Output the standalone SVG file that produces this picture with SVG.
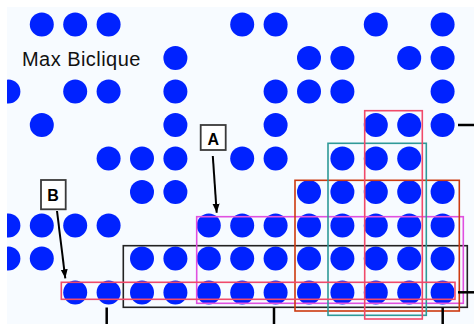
<svg xmlns="http://www.w3.org/2000/svg" width="474" height="324" viewBox="0 0 474 324">
<style>
.d{fill:#0022ff}
.box{fill:none;stroke-width:1.6}
.lbl rect{fill:#ffffff;stroke:#3a3a3a;stroke-width:1.8}
.lbl text{font-family:"Liberation Sans",Arial,sans-serif;font-weight:bold;font-size:16px;fill:#000;text-anchor:middle}
.arr{stroke:#000;stroke-width:2;fill:none}
.tick{stroke:#000;stroke-width:2.5}
</style>
<defs>
<clipPath id="clip"><rect x="7" y="7" width="467" height="317"/></clipPath>
<marker id="ah" markerUnits="userSpaceOnUse" markerWidth="10" markerHeight="10" viewBox="0 0 10 10" refX="9" refY="5" orient="auto">
<path d="M0,1.5 L9,5 L0,8.5 Z" fill="#000"/>
</marker>
</defs>
<rect x="0" y="0" width="474" height="324" fill="#ffffff"/>
<rect x="7" y="7" width="467" height="317" fill="#f7fbff"/>
<text x="22" y="66" font-family="'Liberation Sans',Arial,sans-serif" font-size="20" letter-spacing="0.45" fill="#111">Max Biclique</text>
<g id="dots" clip-path="url(#clip)">
<g id="row0"><circle class="d" cx="41.8" cy="24.6" r="12"/><circle class="d" cx="75.2" cy="24.6" r="12"/><circle class="d" cx="108.6" cy="24.6" r="12"/><circle class="d" cx="242.2" cy="24.6" r="12"/><circle class="d" cx="275.6" cy="24.6" r="12"/><circle class="d" cx="375.8" cy="24.6" r="12"/><circle class="d" cx="442.6" cy="24.6" r="12"/></g>
<g id="row1"><circle class="d" cx="175.4" cy="58.1" r="12"/><circle class="d" cx="309" cy="58.1" r="12"/><circle class="d" cx="342.4" cy="58.1" r="12"/><circle class="d" cx="409.2" cy="58.1" r="12"/><circle class="d" cx="442.6" cy="58.1" r="12"/></g>
<g id="row2"><circle class="d" cx="8.4" cy="91.6" r="12"/><circle class="d" cx="75.2" cy="91.6" r="12"/><circle class="d" cx="108.6" cy="91.6" r="12"/><circle class="d" cx="175.4" cy="91.6" r="12"/><circle class="d" cx="275.6" cy="91.6" r="12"/><circle class="d" cx="309" cy="91.6" r="12"/><circle class="d" cx="342.4" cy="91.6" r="12"/><circle class="d" cx="442.6" cy="91.6" r="12"/></g>
<g id="row3"><circle class="d" cx="41.8" cy="125" r="12"/><circle class="d" cx="175.4" cy="125" r="12"/><circle class="d" cx="275.6" cy="125" r="12"/><circle class="d" cx="375.8" cy="125" r="12"/><circle class="d" cx="409.2" cy="125" r="12"/><circle class="d" cx="442.6" cy="125" r="12"/></g>
<g id="row4"><circle class="d" cx="108.6" cy="158.5" r="12"/><circle class="d" cx="142" cy="158.5" r="12"/><circle class="d" cx="175.4" cy="158.5" r="12"/><circle class="d" cx="242.2" cy="158.5" r="12"/><circle class="d" cx="275.6" cy="158.5" r="12"/><circle class="d" cx="342.4" cy="158.5" r="12"/><circle class="d" cx="375.8" cy="158.5" r="12"/><circle class="d" cx="409.2" cy="158.5" r="12"/></g>
<g id="row5"><circle class="d" cx="142" cy="192" r="12"/><circle class="d" cx="175.4" cy="192" r="12"/><circle class="d" cx="309" cy="192" r="12"/><circle class="d" cx="342.4" cy="192" r="12"/><circle class="d" cx="375.8" cy="192" r="12"/><circle class="d" cx="409.2" cy="192" r="12"/><circle class="d" cx="442.6" cy="192" r="12"/></g>
<g id="row6"><circle class="d" cx="8.4" cy="225.5" r="12"/><circle class="d" cx="41.8" cy="225.5" r="12"/><circle class="d" cx="75.2" cy="225.5" r="12"/><circle class="d" cx="108.6" cy="225.5" r="12"/><circle class="d" cx="208.8" cy="225.5" r="12"/><circle class="d" cx="242.2" cy="225.5" r="12"/><circle class="d" cx="275.6" cy="225.5" r="12"/><circle class="d" cx="309" cy="225.5" r="12"/><circle class="d" cx="342.4" cy="225.5" r="12"/><circle class="d" cx="375.8" cy="225.5" r="12"/><circle class="d" cx="409.2" cy="225.5" r="12"/><circle class="d" cx="442.6" cy="225.5" r="12"/></g>
<g id="row7"><circle class="d" cx="8.4" cy="258.6" r="12"/><circle class="d" cx="41.8" cy="258.6" r="12"/><circle class="d" cx="142" cy="258.6" r="12"/><circle class="d" cx="175.4" cy="258.6" r="12"/><circle class="d" cx="208.8" cy="258.6" r="12"/><circle class="d" cx="242.2" cy="258.6" r="12"/><circle class="d" cx="275.6" cy="258.6" r="12"/><circle class="d" cx="309" cy="258.6" r="12"/><circle class="d" cx="342.4" cy="258.6" r="12"/><circle class="d" cx="375.8" cy="258.6" r="12"/><circle class="d" cx="409.2" cy="258.6" r="12"/><circle class="d" cx="442.6" cy="258.6" r="12"/></g>
<g id="row8"><circle class="d" cx="75.2" cy="292.4" r="12"/><circle class="d" cx="108.6" cy="292.4" r="12"/><circle class="d" cx="142" cy="292.4" r="12"/><circle class="d" cx="175.4" cy="292.4" r="12"/><circle class="d" cx="208.8" cy="292.4" r="12"/><circle class="d" cx="242.2" cy="292.4" r="12"/><circle class="d" cx="275.6" cy="292.4" r="12"/><circle class="d" cx="309" cy="292.4" r="12"/><circle class="d" cx="342.4" cy="292.4" r="12"/><circle class="d" cx="375.8" cy="292.4" r="12"/><circle class="d" cx="409.2" cy="292.4" r="12"/><circle class="d" cx="442.6" cy="292.4" r="12"/></g>
</g>
<g id="bicliques">
<rect id="bc-black" class="box" x="123.3" y="245.7" width="344" height="61.6" stroke="#222222"/>
<rect id="bc-magenta" class="box" x="196.7" y="216.7" width="266.6" height="86.6" stroke="#e050e0"/>
<rect id="bc-orange" class="box" x="295" y="180.3" width="164.3" height="130.7" stroke="#cc3a10"/>
<rect id="bc-teal" class="box" x="328" y="143.3" width="98.3" height="172" stroke="#2f9a98"/>
<rect id="bc-pink-v" class="box" x="364.7" y="110.7" width="57.6" height="208.3" stroke="#f04a6a"/>
<rect id="bc-pink-h" class="box" x="61.3" y="282.3" width="393.7" height="17" stroke="#f04a6a"/>
</g>
<g id="label-A" class="lbl"><rect x="200.7" y="125" width="25" height="25"/><text x="213.2" y="145">A</text></g>
<g id="label-B" class="lbl"><rect x="41" y="180" width="24.7" height="29.3"/><text x="53" y="200.7">B</text></g>
<g id="connectors">
<line class="arr" x1="212.8" y1="156" x2="216.7" y2="212.7" marker-end="url(#ah)"/>
<line class="arr" x1="57" y1="211" x2="65.3" y2="278.3" marker-end="url(#ah)"/>
<line class="tick" x1="106.7" y1="307.5" x2="106.7" y2="324"/>
<line class="tick" x1="274" y1="307.5" x2="274" y2="324"/>
<line class="tick" x1="442.7" y1="307.5" x2="442.7" y2="324"/>
<line class="tick" x1="458" y1="125" x2="474" y2="125"/>
<line class="tick" x1="458" y1="292.3" x2="474" y2="292.3"/>
</g>
</svg>
